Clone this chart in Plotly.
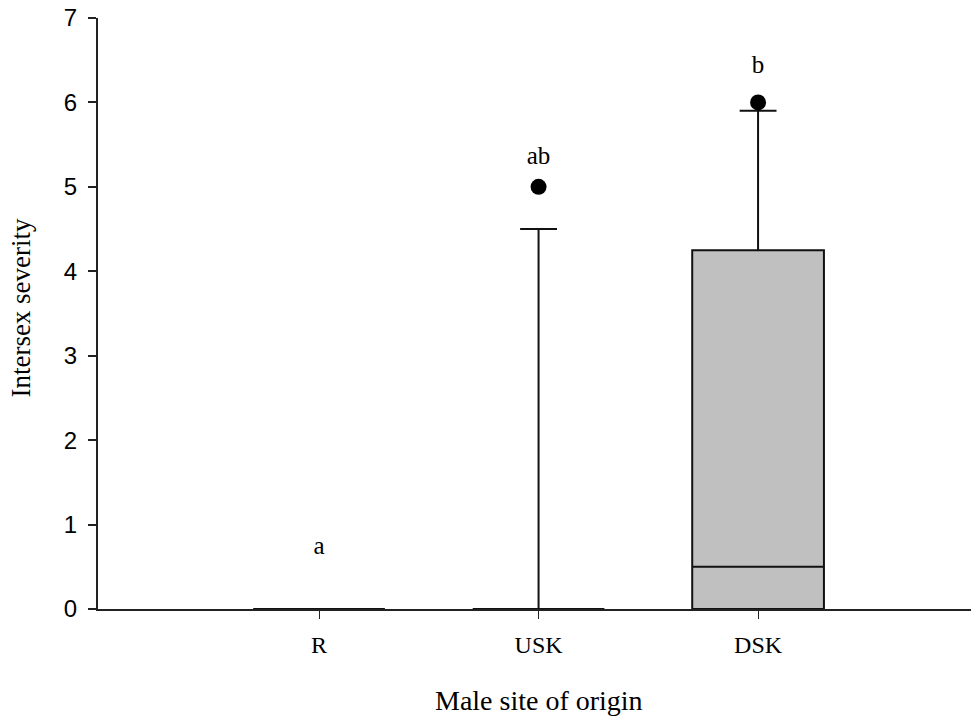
import plotly.graph_objects as go

categories = ["R", "USK", "DSK"]
positions = [0, 1, 2]
q1 = [0, 0, 0]
median = [0, 0, 0.5]
q3 = [0, 0, 4.25]
lower_fence = [0, 0, 0]
upper_fence = [0, 4.5, 5.9]
outlier_x = [1, 2]
outlier_y = [5, 6]
letters = ["a", "ab", "b"]
letter_y = [0.72, 5.35, 6.42]
y_ticks = [0, 1, 2, 3, 4, 5, 6, 7]

serif = "Liberation Serif, Times New Roman, serif"
sans = "Liberation Sans, Arial, sans-serif"

fig = go.Figure()
for i, c in enumerate(categories):
    fig.add_trace(go.Box(
        x=[positions[i]], q1=[q1[i]], median=[median[i]], q3=[q3[i]],
        lowerfence=[lower_fence[i]], upperfence=[upper_fence[i]],
        width=0.6, whiskerwidth=0.28,
        fillcolor="#c0c0c0", line=dict(color="#111111", width=2),
        boxpoints=False, name=c, showlegend=False, hoverinfo="skip",
    ))

fig.add_trace(go.Scatter(
    x=outlier_x, y=outlier_y, mode="markers",
    marker=dict(color="black", size=16), showlegend=False, hoverinfo="skip",
))

fig.add_trace(go.Scatter(
    x=positions, y=letter_y, mode="text", text=letters,
    textfont=dict(family=serif, size=25, color="black"),
    showlegend=False, hoverinfo="skip",
))

fig.update_layout(
    width=971, height=721,
    margin=dict(l=98, r=0, t=18, b=112),
    plot_bgcolor="white", paper_bgcolor="white",
    xaxis=dict(
        range=[-1.007, 2.97], tickvals=positions, ticktext=categories,
        showline=True, linecolor="#222222", linewidth=2,
        ticks="outside", ticklen=8, tickwidth=1, tickcolor="#222222",
        tickfont=dict(family=serif, size=24, color="black"),
        ticklabelstandoff=5,
        showgrid=False, zeroline=False,
    ),
    yaxis=dict(
        range=[0, 7], tickvals=y_ticks,
        showline=True, linecolor="#222222", linewidth=2,
        ticks="outside", ticklen=8, tickwidth=1.5, tickcolor="#222222",
        tickfont=dict(family=sans, size=24, color="black"),
        ticklabelstandoff=6, ticklabeloverflow="allow",
        showgrid=False, zeroline=False,
    ),
    annotations=[
        dict(text="Intersex severity", xref="paper", yref="paper",
             x=-0.0882, y=0.51, xanchor="center", yanchor="middle",
             textangle=-90, showarrow=False,
             font=dict(family=serif, size=27, color="black")),
        dict(text="Male site of origin", xref="x", yref="paper",
             x=1.0, y=-0.155, xanchor="center", yanchor="middle",
             showarrow=False,
             font=dict(family=serif, size=28, color="black")),
    ],
)

fig.write_html(
    "out.html",
    config={"displayModeBar": False},
    post_script="document.body.style.margin='0';document.body.style.overflow='hidden';",
)
